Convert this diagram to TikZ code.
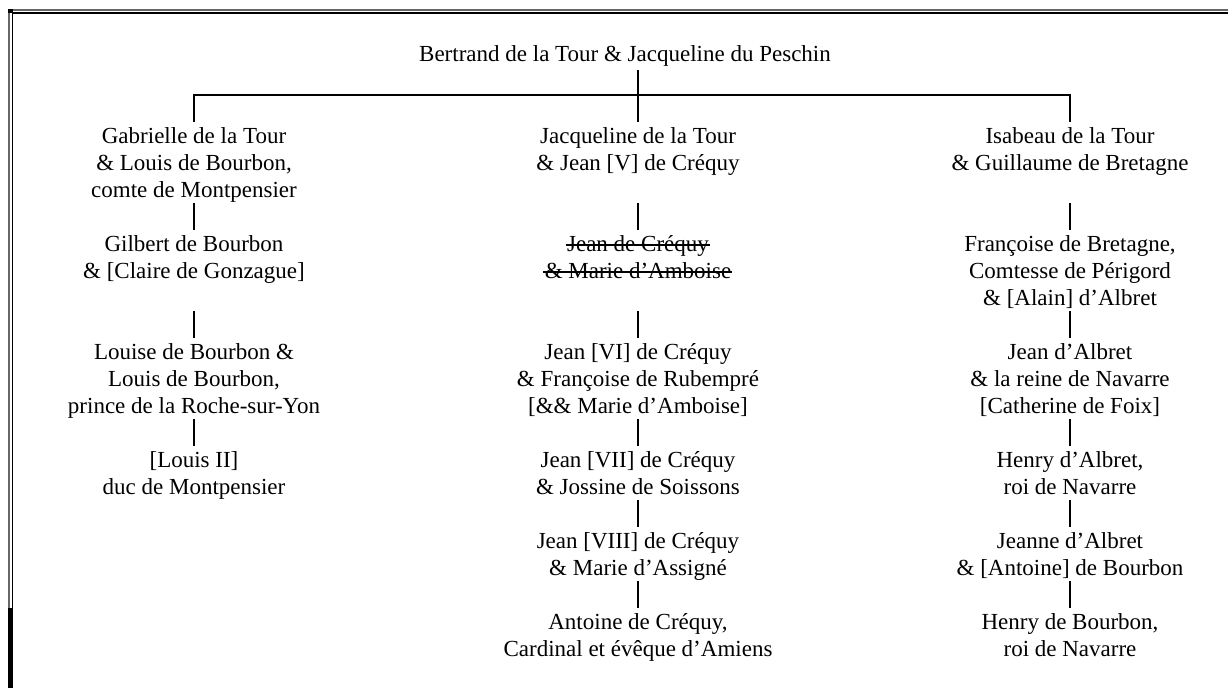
\documentclass[tikz,border=0pt]{standalone}
\usepackage{fontspec}
\setmainfont{Liberation Serif}
\usetikzlibrary{calc}
\newcommand{\nl}{\\\strut}
\tikzset{
  person/.style={anchor=north, align=center, inner sep=0pt, outer sep=0pt,
    font=\fontsize{23}{27}\selectfont},
  bar/.style={line width=1.2pt},
  hline/.style={line width=2pt},
  strike/.style={line width=1.3pt},
}
\begin{document}
\begin{tikzpicture}[x=1pt, y=-1pt]
\useasboundingbox (0,0) rectangle (1228,688);
% frame
\draw[line width=2pt, black!60] (9,608) -- (9,10) -- (1228,10);
\draw[line width=1.4pt, black] (12.2,608) -- (12.2,12.8) -- (1228,12.8);
\fill[black] (8,608) rectangle (12.9,688);
\fill[black] (8,9) rectangle (12.9,13.4);
% nodes
\node[person] (T) at (625,42.6) {\strut Bertrand de la Tour \& Jacqueline du Peschin};
\node[person] (L1) at (194,124.1) {\strut Gabrielle de la Tour\nl \& Louis de Bourbon,\nl comte de Montpensier};
\node[person] (L2) at (194,232.1) {\strut Gilbert de Bourbon\nl \& [Claire de Gonzague]};
\node[person] (L3) at (194,340.1) {\strut Louise de Bourbon \&\nl Louis de Bourbon,\nl prince de la Roche-sur-Yon};
\node[person] (L4) at (194,448.1) {\strut [Louis II]\nl duc de Montpensier};
\node[person] (M1) at (638,124.1) {\strut Jacqueline de la Tour\nl \& Jean [V] de Créquy};
\node[person] (M2a) at (638,232.1) {\strut Jean de Créquy};
\node[person] (M2b) at (638,259.1) {\strut \& Marie d’Amboise};
\node[person] (M3) at (638,340.1) {\strut Jean [VI] de Créquy\nl \& Françoise de Rubempré\nl [\&\& Marie d’Amboise]};
\node[person] (M4) at (638,448.1) {\strut Jean [VII] de Créquy\nl \& Jossine de Soissons};
\node[person] (M5) at (638,529.1) {\strut Jean [VIII] de Créquy\nl \& Marie d’Assigné};
\node[person] (M6) at (638,610.1) {\strut Antoine de Créquy,\nl Cardinal et évêque d’Amiens};
\node[person] (R1) at (1070,124.1) {\strut Isabeau de la Tour\nl \& Guillaume de Bretagne};
\node[person] (R2) at (1070,232.1) {\strut Françoise de Bretagne,\nl Comtesse de Périgord\nl \& [Alain] d’Albret};
\node[person] (R3) at (1070,340.1) {\strut Jean d’Albret\nl \& la reine de Navarre\nl [Catherine de Foix]};
\node[person] (R4) at (1070,448.1) {\strut Henry d’Albret,\nl roi de Navarre};
\node[person] (R5) at (1070,529.1) {\strut Jeanne d’Albret\nl \& [Antoine] de Bourbon};
\node[person] (R6) at (1070,610.1) {\strut Henry de Bourbon,\nl roi de Navarre};
% strike-through
\draw[strike] ([xshift=-1.5pt,yshift=6pt]M2a.base west) -- ([xshift=1pt,yshift=6pt]M2a.base east);
\draw[strike] ([xshift=-1.5pt,yshift=6pt]M2b.base west) -- ([xshift=1pt,yshift=6pt]M2b.base east);
% top connectors
\coordinate (hl) at (638,94.5);
\draw[hline] ([yshift=2pt]L1.north) |- (hl) -| ([yshift=2pt]R1.north);
\draw[bar] (T.south -| M1.north) -- ([yshift=2pt]M1.north);
% descent bars
\foreach \n in {L2,L3,L4,M2a,M3,M4,M5,M6,R2,R3,R4,R5,R6}
  \draw[bar] ([yshift=2pt]\n.north) -- ++(0,-27);
\end{tikzpicture}
\end{document}
